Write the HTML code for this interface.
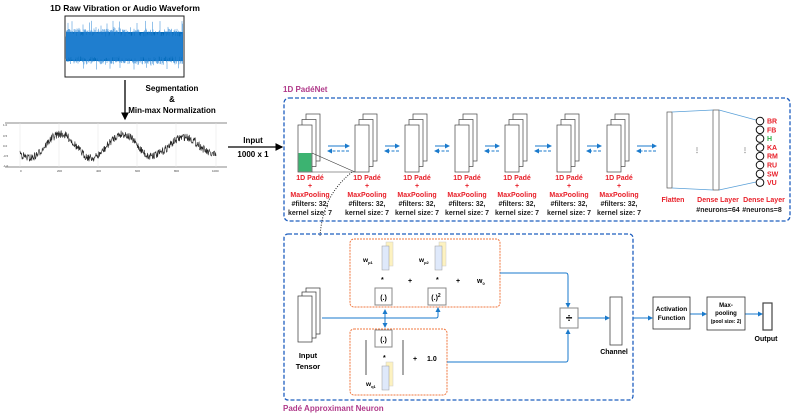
<!DOCTYPE html>
<html><head><meta charset="utf-8"><style>
html,body{margin:0;padding:0;background:#fff}
svg{display:block;font-family:"Liberation Sans",Arial,sans-serif;font-weight:bold}
.r{fill:#e8202a;font-size:7px;text-anchor:middle}
.k{fill:#222;font-size:7px;text-anchor:middle}
</style></head><body>
<svg id="s" width="793" height="417" viewBox="0 0 793 417" xmlns="http://www.w3.org/2000/svg">
<defs>
<marker id="ak" markerWidth="6" markerHeight="6" refX="5" refY="3" orient="auto"><path d="M0,0L6,3L0,6z" fill="#000"/></marker>
<marker id="ab" markerWidth="5" markerHeight="5" refX="4" refY="2.5" orient="auto"><path d="M0,0L5,2.5L0,5z" fill="#1a7acc"/></marker>
<marker id="abs" markerWidth="5" markerHeight="5" refX="1" refY="2.5" orient="auto"><path d="M5,0L0,2.5L5,5z" fill="#1a7acc"/></marker>
</defs>
<text x="125" y="11" font-size="8.5" text-anchor="middle">1D Raw Vibration or Audio Waveform</text>
<rect x="65" y="16" width="119" height="61" fill="#fff" stroke="#222"/>
<g id="wave"></g>
<line x1="125" y1="80" x2="125" y2="119" stroke="#000" stroke-width="1.3" marker-end="url(#ak)"/>
<text x="172" y="91" font-size="8" text-anchor="middle">Segmentation</text>
<text x="172" y="102" font-size="8" text-anchor="middle">&amp;</text>
<text x="172" y="113" font-size="8" text-anchor="middle">Min-max Normalization</text>
<line x1="5" y1="123" x2="227" y2="123" stroke="#888"/>
<line x1="5" y1="167" x2="227" y2="167" stroke="#888"/>
<g stroke="#e4e4e4" stroke-width="0.5"><line x1="20" y1="123" x2="20" y2="167"/><line x1="59" y1="123" x2="59" y2="167"/><line x1="98" y1="123" x2="98" y2="167"/><line x1="137" y1="123" x2="137" y2="167"/><line x1="176" y1="123" x2="176" y2="167"/><line x1="216" y1="123" x2="216" y2="167"/></g>
<g font-size="3" fill="#444" font-weight="normal"><text x="20" y="172">0</text><text x="57" y="172">200</text><text x="96" y="172">400</text><text x="135" y="172">600</text><text x="174" y="172">800</text><text x="212" y="172">1000</text><text x="3" y="126">1.0</text><text x="3" y="137">0.5</text><text x="3" y="147">0.0</text><text x="3" y="157">-0.5</text><text x="3" y="167">-1.0</text></g>
<g id="sig"></g>
<text x="253" y="143" font-size="8" text-anchor="middle">Input</text>
<text x="253" y="157" font-size="8" text-anchor="middle">1000 x 1</text>
<line x1="228" y1="147" x2="282" y2="147" stroke="#000" stroke-width="1.3" marker-end="url(#ak)"/>
<text x="283" y="92" font-size="8" fill="#b03a8a">1D PadéNet</text>
<rect x="284" y="98" width="506" height="123" rx="5" fill="none" stroke="#1f5fbf" stroke-width="1.3" stroke-dasharray="4,2"/>
<g id="blocks"></g>
<rect x="667" y="112" width="5" height="76" fill="#fff" stroke="#555" stroke-width="0.7"/>
<rect x="713" y="110" width="6" height="80" fill="#fff" stroke="#555" stroke-width="0.7"/>
<g stroke="#5aa0d8" stroke-width="0.7"><line x1="672" y1="112" x2="713" y2="110"/><line x1="672" y1="188" x2="713" y2="190"/><line x1="719" y1="110" x2="756" y2="120"/><line x1="719" y1="190" x2="756" y2="182"/></g>
<text x="694" y="152" font-size="6" fill="#666">⋮</text><text x="742" y="152" font-size="6" fill="#666">⋮</text>
<g id="circ"></g>
<text x="673" y="202" class="r">Flatten</text>
<text x="718" y="202" class="r">Dense Layer</text><text x="718" y="212" class="k">#neurons=64</text>
<text x="764" y="202" class="r">Dense Layer</text><text x="762" y="212" class="k">#neurons=8</text>
<path d="M352,172 C330,190 322,210 320,236" fill="none" stroke="#222" stroke-width="1" stroke-dasharray="1,1.5"/>
<rect x="284" y="234" width="349" height="166" rx="4" fill="none" stroke="#1f5fbf" stroke-width="1.3" stroke-dasharray="4,2"/>
<text x="283" y="411" font-size="8" fill="#b03a8a">Padé Approximant Neuron</text>
<rect x="350" y="239" width="150" height="68" rx="4" fill="none" stroke="#f07840" stroke-width="1" stroke-dasharray="2,1"/>
<rect x="350" y="329" width="97" height="66" rx="4" fill="none" stroke="#f07840" stroke-width="1" stroke-dasharray="2,1"/>
<g fill="#fff" stroke="#333" stroke-width="0.7"><rect x="306" y="288" width="14" height="46"/><rect x="302" y="292" width="14" height="46"/><rect x="298" y="296" width="14" height="46"/></g>
<text x="308" y="358" font-size="7.5" text-anchor="middle">Input</text><text x="308" y="369" font-size="7.5" text-anchor="middle">Tensor</text>
<g stroke="#1a7acc" stroke-width="1" fill="none">
<path d="M322,318 H436 Q438,318 438,316 V308" marker-end="url(#ab)"/>
<line x1="385" y1="310" x2="385" y2="327" marker-end="url(#ab)" marker-start="url(#abs)"/>
<path d="M500,273 H566 Q568,273 568,276 V307" marker-end="url(#ab)"/>
<path d="M447,362 H566 Q568,362 568,359 V330" marker-end="url(#ab)"/>
<line x1="578" y1="318" x2="609" y2="318" marker-end="url(#ab)"/>
<line x1="633" y1="318" x2="652" y2="318" marker-end="url(#ab)"/>
<line x1="690" y1="314" x2="706" y2="314" marker-end="url(#ab)"/>
<line x1="745" y1="314" x2="762" y2="314" marker-end="url(#ab)"/>
</g>
<g fill="#fff" stroke="#888" stroke-width="1"><rect x="375" y="288" width="17" height="17"/><rect x="428" y="288" width="18" height="17"/><rect x="375" y="330" width="17" height="17"/><rect x="560" y="308" width="18" height="20"/></g>
<text x="383.5" y="300" font-size="7" text-anchor="middle">(.)</text>
<text x="436" y="300" font-size="7" text-anchor="middle">(.)<tspan font-size="5" dy="-3">2</tspan></text>
<text x="383.5" y="342" font-size="7" text-anchor="middle">(.)</text>
<text x="569" y="322" font-size="12" text-anchor="middle">÷</text>
<g id="filt"></g>
<text x="363" y="262" font-size="6.5">w<tspan font-size="4" dy="2">p1</tspan></text>
<text x="419" y="262" font-size="6.5">w<tspan font-size="4" dy="2">p2</tspan></text>
<text x="366" y="386" font-size="6.5">w<tspan font-size="4" dy="2">q1</tspan></text>
<g font-size="7"><text x="381" y="282">*</text><text x="408" y="283">+</text><text x="436" y="282">*</text><text x="456" y="283">+</text><text x="477" y="283">w<tspan font-size="4" dy="2">0</tspan></text>
<text x="383" y="360">*</text><text x="413" y="361">+</text><text x="427" y="361">1.0</text></g>
<line x1="366" y1="340" x2="366" y2="375" stroke="#555"/><line x1="403" y1="340" x2="403" y2="375" stroke="#555"/>
<rect x="610" y="297" width="12" height="48" fill="#fff" stroke="#444" stroke-width="0.8"/>
<text x="614" y="354" font-size="7" text-anchor="middle">Channel</text>
<rect x="653" y="297" width="37" height="32" fill="#fff" stroke="#333" stroke-width="0.8"/>
<text x="671.5" y="311" font-size="6.5" text-anchor="middle">Activation</text><text x="671.5" y="320" font-size="6.5" text-anchor="middle">Function</text>
<rect x="707" y="297" width="38" height="33" fill="#fff" stroke="#333" stroke-width="0.8"/>
<text x="726" y="307" font-size="6" text-anchor="middle">Max-</text><text x="726" y="315" font-size="6" text-anchor="middle">pooling</text><text x="726" y="323" font-size="5" text-anchor="middle">(pool size: 2)</text>
<rect x="763" y="303" width="9" height="27" fill="#fff" stroke="#444" stroke-width="1.2"/>
<text x="766" y="341" font-size="7" text-anchor="middle">Output</text>
</svg>
<script>
var NS="http://www.w3.org/2000/svg";function el(p,t,a){var e=document.createElementNS(NS,t);for(var k in a)e.setAttribute(k,a[k]);p.appendChild(e);return e;}
var seed=7;function rnd(){seed=(seed*16807)%2147483647;return seed/2147483647;}
var w=document.getElementById('wave');
el(w,'rect',{x:66,y:32,width:117,height:29,fill:'#0068b8'});
var d='';for(var x=66;x<183;x+=0.5){var a=10+rnd()*8;if(rnd()<0.08)a+=8;var b2=10+rnd()*8;if(rnd()<0.08)b2+=5;d+='M'+x.toFixed(1)+','+(46.5-a).toFixed(1)+'V'+(46.5+b2).toFixed(1);}
el(w,'path',{d:d,stroke:'#2a86d6','stroke-width':0.5});
var s=document.getElementById('sig');d='';
for(var i=0;i<=500;i++){var x=20+i*196/500;var y=146-Math.sin((x-45)/62*2*Math.PI)*12*(1-0.25*(x>150?1:0))+(rnd()-0.5)*8;d+=(i?'L':'M')+x.toFixed(1)+','+y.toFixed(1);}
el(s,'path',{d:d,fill:'none',stroke:'#222','stroke-width':0.6});
var b=document.getElementById('blocks');var xs=[298,355,405,455,505,557,607];
xs.forEach(function(x,i){for(var j=2;j>=0;j--)el(b,'rect',{x:x+j*4,y:125-j*5.5,width:14,height:47,fill:'#fff',stroke:'#444','stroke-width':0.7});
if(i==0)el(b,'rect',{x:298.5,y:153,width:13,height:18.5,fill:'#3cb371'});
var cx=x+12;[['1D Padé','r',180],['+','r',188],['MaxPooling','r',197],['#filters: 32,','k',206],['kernel size: 7','k',215]].forEach(function(L){var t=el(b,'text',{x:cx,y:L[2],'class':L[1]});t.textContent=L[0];});
var nx=(i<6)?xs[i+1]:662;
el(b,'line',{x1:x+30,y1:146,x2:nx-6,y2:146,stroke:'#1a7acc','stroke-width':1,'marker-end':'url(#ab)'});
el(b,'line',{x1:nx-6,y1:151,x2:x+30,y2:151,stroke:'#1a7acc','stroke-width':1,'stroke-dasharray':'3,1.5','marker-end':'url(#ab)'});
});
el(b,'line',{x1:312,y1:153,x2:355,y2:172,stroke:'#333','stroke-width':0.6});el(b,'line',{x1:312,y1:172,x2:355,y2:172,stroke:'#333','stroke-width':0.6});
var c=document.getElementById('circ');var labs=['BR','FB','H','KA','RM','RU','SW','VU'];
labs.forEach(function(l,i){var y=121+i*8.8;el(c,'circle',{cx:760,cy:y,r:3.8,fill:'#fff',stroke:'#111','stroke-width':1});var t=el(c,'text',{x:767,y:y+2.5,'font-size':7,fill:l=='H'?'#2db34a':'#e8202a'});t.textContent=l;});
var f=document.getElementById('filt');[[382,244],[435,244],[382,364]].forEach(function(p){el(f,'rect',{x:p[0]+4,y:p[1]-2,width:7,height:24,fill:'#fdf2c0',stroke:'#ccc','stroke-width':0.5});el(f,'rect',{x:p[0],y:p[1]+2,width:7,height:24,fill:'#dfe9fb',stroke:'#999','stroke-width':0.5});});
</script>
</body></html>
